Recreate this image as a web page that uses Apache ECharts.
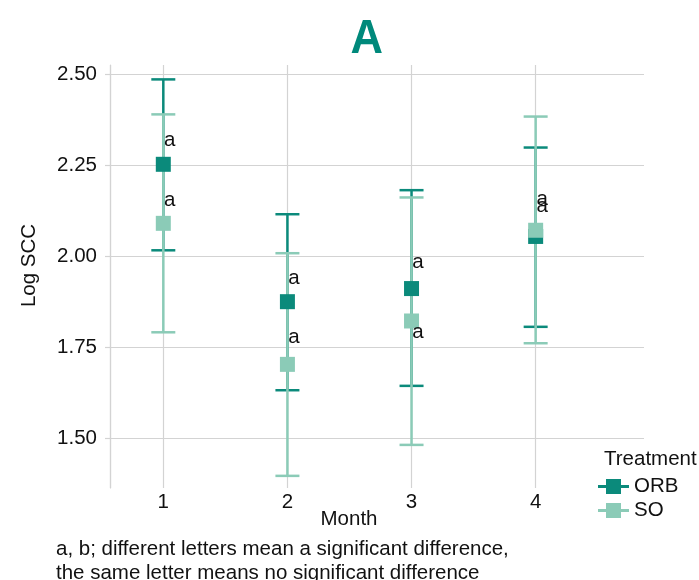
<!DOCTYPE html>
<html><head><meta charset="utf-8">
<script src="https://cdn.jsdelivr.net/npm/echarts@6/dist/echarts.min.js"></script>
<style>html,body{margin:0;padding:0;background:#fff}#c{width:699px;height:580px}</style>
</head><body><div id="c"></div>
<script>
// ---- data ----
const months = [1, 2, 3, 4];
const monthLabels = ['1', '2', '3', '4'];
const seriesNames = ['ORB', 'SO'];
const orbMean  = [2.253, 1.876, 1.912, 2.055];
const orbLower = [2.017, 1.633, 1.645, 1.807];
const orbUpper = [2.486, 2.116, 2.182, 2.299];
const soMean   = [2.091, 1.704, 1.823, 2.072];
const soLower  = [1.792, 1.398, 1.483, 1.762];
const soUpper  = [2.390, 2.009, 2.162, 2.384];
const orbLetters = ['a', 'a', 'a', 'a'];
const soLetters  = ['a', 'a', 'a', 'a'];
const yTickValues = [1.50, 1.75, 2.00, 2.25, 2.50];

// ---- layout / style ----
const orbLabelDy = [-24, -23, -26, -30];
const soLabelDy  = [-23, -27, 11, -31];
const FONT = '"Liberation Sans", Arial, sans-serif';
const FS = 20.5;
const TXT = '#111';
const GRIDC = '#d3d3d3';
const ORB_C = '#0b8a7b';
const SO_C = '#8bcbb7';
const ICON = 'path://M0,6h31v3H0z M8,0h15v15H8z';

function errRender(color) {
  return function (params, api) {
    const x = api.value(0), lo = api.value(1), hi = api.value(2);
    const a = api.coord([x, hi]), b = api.coord([x, lo]);
    const hw = 12;
    const style = { stroke: color, lineWidth: 2.5 };
    return { type: 'group', children: [
      { type: 'line', shape: { x1: a[0], y1: a[1], x2: b[0], y2: b[1] }, style },
      { type: 'line', shape: { x1: a[0] - hw, y1: a[1], x2: a[0] + hw, y2: a[1] }, style },
      { type: 'line', shape: { x1: b[0] - hw, y1: b[1], x2: b[0] + hw, y2: b[1] }, style }
    ]};
  };
}
function errData(lo, hi) { return months.map((m, i) => [m, lo[i], hi[i]]); }
function ptData(mean, letters, dy) {
  return months.map((m, i) => ({
    value: [m, mean[i]],
    label: { show: true, formatter: letters[i], position: 'inside', offset: [6.5, dy[i]] }
  }));
}
const labelStyle = { fontSize: FS, fontFamily: FONT, color: TXT, textBorderWidth: 0 };

const chart = echarts.init(document.getElementById('c'), null, { renderer: 'canvas' });
chart.setOption({
  animation: false,
  textStyle: { fontFamily: FONT },
  grid: { left: 110, right: 55, top: 65, bottom: 92 },
  xAxis: {
    type: 'value', min: 0.5705, max: 4.873, minInterval: 1, maxInterval: 1,
    axisLine: { show: false }, axisTick: { show: false },
    axisLabel: {
      formatter: v => { const k = months.indexOf(v); return k >= 0 ? monthLabels[k] : ''; },
      margin: 4, fontSize: FS, color: TXT, fontFamily: FONT
    },
    splitLine: { show: true, showMaxLine: false, lineStyle: { color: GRIDC, width: 1.2 } },
    name: 'Month', nameLocation: 'middle', nameGap: 21, nameMoveOverlap: false,
    nameTextStyle: { fontSize: FS, color: TXT, fontFamily: FONT, padding: [0, 56, 0, 0] }
  },
  yAxis: {
    type: 'value', min: 1.3647, max: 2.5255,
    axisLine: { show: true, lineStyle: { color: GRIDC, width: 1.2 } },
    axisTick: { show: true, length: 5, customValues: yTickValues, lineStyle: { color: GRIDC, width: 1.2 } },
    axisLabel: { customValues: yTickValues, formatter: v => v.toFixed(2), margin: 13, fontSize: FS, color: TXT, fontFamily: FONT },
    splitLine: { show: true, lineStyle: { color: GRIDC, width: 1.2 } },
    name: 'Log SCC', nameLocation: 'middle', nameGap: 70, nameMoveOverlap: false,
    nameTextStyle: { fontSize: FS, color: TXT, fontFamily: FONT, padding: [0, 0, 0, 22] }
  },
  legend: {
    orient: 'vertical', left: 598, top: 476, padding: 0,
    itemWidth: 31, itemHeight: 15, itemGap: 3, selectedMode: false,
    textStyle: { fontSize: FS, color: TXT, fontFamily: FONT },
    data: seriesNames.map(n => ({ name: n, icon: ICON }))
  },
  series: [
    { name: 'ORB_err', type: 'custom', renderItem: errRender(ORB_C), encode: { x: 0, y: [1, 2] }, data: errData(orbLower, orbUpper), silent: true },
    { name: seriesNames[0], type: 'scatter', symbol: 'rect', symbolSize: 15, itemStyle: { color: ORB_C, opacity: 1 },
      label: labelStyle, emphasis: { disabled: true }, data: ptData(orbMean, orbLetters, orbLabelDy) },
    { name: 'SO_err', type: 'custom', renderItem: errRender(SO_C), encode: { x: 0, y: [1, 2] }, data: errData(soLower, soUpper), silent: true },
    { name: seriesNames[1], type: 'scatter', symbol: 'rect', symbolSize: 15, itemStyle: { color: SO_C, opacity: 1 },
      label: labelStyle, emphasis: { disabled: true }, data: ptData(soMean, soLetters, soLabelDy) }
  ],
  graphic: [
    { type: 'text', x: 366.7, y: 40, scaleY: 1.08, style: { text: 'A', font: 'bold 45px ' + FONT, fill: '#00897b', align: 'center', verticalAlign: 'middle' } },
    { type: 'text', x: 604, y: 459, style: { text: 'Treatment', font: FS + 'px ' + FONT, fill: TXT, align: 'left', verticalAlign: 'middle' } },
    { type: 'text', x: 56, y: 549, style: { text: 'a, b; different letters mean a significant difference,', font: FS + 'px ' + FONT, fill: TXT, align: 'left', verticalAlign: 'middle' } },
    { type: 'text', x: 56, y: 573, style: { text: 'the same letter means no significant difference', font: FS + 'px ' + FONT, fill: TXT, align: 'left', verticalAlign: 'middle' } }
  ]
});
</script></body></html>
